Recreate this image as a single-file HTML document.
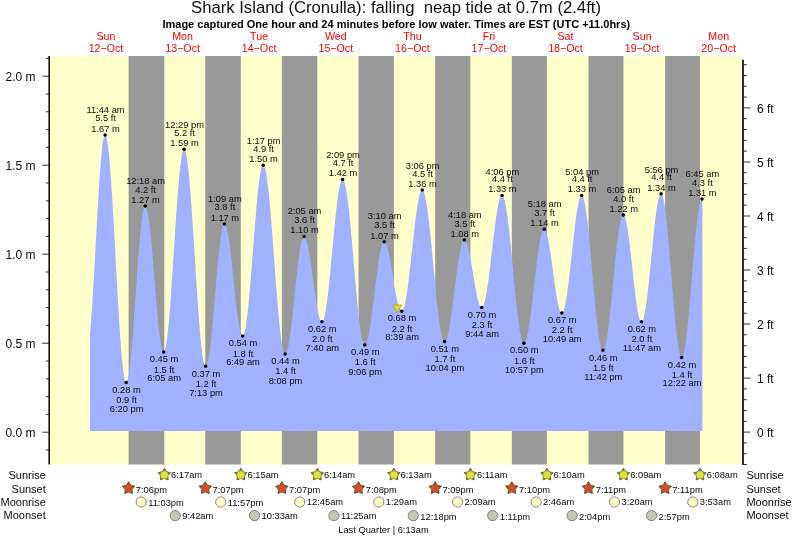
<!DOCTYPE html>
<html><head><meta charset="utf-8"><title>Shark Island (Cronulla) tide times</title>
<style>html,body{margin:0;padding:0;background:#fff}svg{display:block}text{font-family:"Liberation Sans",sans-serif}</style></head><body>
<svg width="793" height="537" viewBox="0 0 793 537">
<rect x="0" y="0" width="793" height="537" fill="#ffffff"/>
<rect x="50" y="56" width="692" height="408.5" fill="#ffffcc"/>
<rect x="128.61" y="56" width="35.69" height="408.5" fill="#999999"/>
<rect x="205.26" y="56" width="35.53" height="408.5" fill="#999999"/>
<rect x="281.86" y="56" width="35.48" height="408.5" fill="#999999"/>
<rect x="358.52" y="56" width="35.37" height="408.5" fill="#999999"/>
<rect x="435.17" y="56" width="35.21" height="408.5" fill="#999999"/>
<rect x="511.82" y="56" width="35.11" height="408.5" fill="#999999"/>
<rect x="588.48" y="56" width="35.00" height="408.5" fill="#999999"/>
<rect x="665.08" y="56" width="34.95" height="408.5" fill="#999999"/>
<polygon points="90.0,431.0 90.0,333.6 90.5,328.0 91.0,321.8 91.5,315.1 92.0,307.9 92.5,300.2 93.0,292.1 93.5,283.7 94.0,275.1 94.5,266.2 95.0,257.2 95.5,248.1 96.0,238.9 96.5,229.8 97.0,220.8 97.5,212.0 98.0,203.4 98.5,195.0 99.0,187.0 99.5,179.5 100.0,172.3 100.5,165.7 101.0,159.6 101.5,154.1 102.0,149.3 102.5,145.1 103.0,141.6 103.5,138.8 104.0,136.8 104.5,135.5 105.0,135.0 105.5,135.2 106.0,136.1 106.5,137.6 107.0,139.9 107.5,142.8 108.0,146.3 108.5,150.5 109.0,155.3 109.5,160.6 110.0,166.5 110.5,173.0 111.0,179.8 111.5,187.2 112.0,194.9 112.5,203.0 113.0,211.3 113.5,220.0 114.0,228.8 114.5,237.9 115.0,247.0 115.5,256.2 116.0,265.4 116.5,274.6 117.0,283.7 117.5,292.7 118.0,301.4 118.5,310.0 119.0,318.2 119.5,326.1 120.0,333.7 120.5,340.8 121.0,347.5 121.5,353.6 122.0,359.3 122.5,364.3 123.0,368.8 123.5,372.7 124.0,376.0 124.5,378.6 125.0,380.5 125.5,381.8 126.0,382.3 126.5,382.2 127.0,381.5 127.5,380.2 128.0,378.3 128.5,375.9 129.0,372.9 129.5,369.3 130.0,365.3 130.5,360.8 131.0,355.8 131.5,350.4 132.0,344.6 132.5,338.5 133.0,332.0 133.5,325.3 134.0,318.4 134.5,311.4 135.0,304.2 135.5,296.9 136.0,289.7 136.5,282.4 137.0,275.3 137.5,268.3 138.0,261.4 138.5,254.8 139.0,248.4 139.5,242.4 140.0,236.7 140.5,231.4 141.0,226.5 141.5,222.1 142.0,218.2 142.5,214.8 143.0,211.9 143.5,209.6 144.0,207.9 144.5,206.7 145.0,206.2 145.5,206.2 146.0,206.8 146.5,207.9 147.0,209.5 147.5,211.6 148.0,214.2 148.5,217.3 149.0,220.8 149.5,224.8 150.0,229.1 150.5,233.8 151.0,238.8 151.5,244.1 152.0,249.7 152.5,255.5 153.0,261.5 153.5,267.5 154.0,273.7 154.5,279.9 155.0,286.1 155.5,292.3 156.0,298.3 156.5,304.2 157.0,310.0 157.5,315.5 158.0,320.7 158.5,325.7 159.0,330.3 159.5,334.5 160.0,338.3 160.5,341.8 161.0,344.7 161.5,347.2 162.0,349.2 162.5,350.7 163.0,351.6 163.5,352.1 164.0,352.0 164.5,351.3 165.0,350.0 165.5,348.1 166.0,345.6 166.5,342.6 167.0,339.1 167.5,335.0 168.0,330.4 168.5,325.3 169.0,319.8 169.5,313.9 170.0,307.6 170.5,301.0 171.0,294.1 171.5,286.9 172.0,279.6 172.5,272.0 173.0,264.3 173.5,256.6 174.0,248.8 174.5,241.0 175.0,233.2 175.5,225.6 176.0,218.1 176.5,210.8 177.0,203.8 177.5,197.0 178.0,190.6 178.5,184.5 179.0,178.7 179.5,173.5 180.0,168.6 180.5,164.3 181.0,160.4 181.5,157.1 182.0,154.4 182.5,152.2 183.0,150.6 183.5,149.6 184.0,149.2 184.5,149.4 185.0,150.1 185.5,151.5 186.0,153.4 186.5,155.8 187.0,158.8 187.5,162.4 188.0,166.4 188.5,170.9 189.0,175.9 189.5,181.4 190.0,187.2 190.5,193.4 191.0,200.0 191.5,206.9 192.0,214.0 192.5,221.4 193.0,228.9 193.5,236.7 194.0,244.5 194.5,252.4 195.0,260.3 195.5,268.3 196.0,276.1 196.5,283.9 197.0,291.5 197.5,299.0 198.0,306.2 198.5,313.2 199.0,319.8 199.5,326.2 200.0,332.1 200.5,337.7 201.0,342.9 201.5,347.6 202.0,351.8 202.5,355.5 203.0,358.7 203.5,361.3 204.0,363.4 204.5,365.0 205.0,365.9 205.5,366.3 206.0,366.2 206.5,365.5 207.0,364.4 207.5,362.8 208.0,360.7 208.5,358.2 209.0,355.2 209.5,351.8 210.0,348.1 210.5,343.9 211.0,339.5 211.5,334.7 212.0,329.7 212.5,324.4 213.0,318.9 213.5,313.3 214.0,307.5 214.5,301.6 215.0,295.8 215.5,289.9 216.0,284.0 216.5,278.2 217.0,272.5 217.5,267.0 218.0,261.7 218.5,256.6 219.0,251.8 219.5,247.2 220.0,243.0 220.5,239.2 221.0,235.7 221.5,232.7 222.0,230.1 222.5,227.9 223.0,226.2 223.5,225.0 224.0,224.2 224.5,223.9 225.0,224.1 225.5,224.7 226.0,225.8 226.5,227.2 227.0,229.1 227.5,231.3 228.0,233.9 228.5,236.8 229.0,240.1 229.5,243.6 230.0,247.5 230.5,251.6 231.0,255.9 231.5,260.3 232.0,265.0 232.5,269.7 233.0,274.5 233.5,279.4 234.0,284.3 234.5,289.1 235.0,293.9 235.5,298.5 236.0,303.0 236.5,307.4 237.0,311.5 237.5,315.4 238.0,319.1 238.5,322.4 239.0,325.4 239.5,328.1 240.0,330.4 240.5,332.4 241.0,333.9 241.5,335.0 242.0,335.8 242.5,336.1 243.0,335.9 243.5,335.3 244.0,334.2 244.5,332.6 245.0,330.5 245.5,327.9 246.0,324.9 246.5,321.5 247.0,317.7 247.5,313.5 248.0,308.9 248.5,303.9 249.0,298.7 249.5,293.2 250.0,287.5 250.5,281.5 251.0,275.3 251.5,269.0 252.0,262.6 252.5,256.2 253.0,249.7 253.5,243.2 254.0,236.7 254.5,230.4 255.0,224.1 255.5,218.0 256.0,212.1 256.5,206.4 257.0,201.0 257.5,195.8 258.0,191.0 258.5,186.5 259.0,182.4 259.5,178.7 260.0,175.4 260.5,172.6 261.0,170.1 261.5,168.2 262.0,166.7 262.5,165.8 263.0,165.3 263.5,165.3 264.0,165.8 264.5,166.7 265.0,168.2 265.5,170.1 266.0,172.5 266.5,175.3 267.0,178.6 267.5,182.3 268.0,186.4 268.5,190.8 269.0,195.7 269.5,200.8 270.0,206.3 270.5,212.0 271.0,217.9 271.5,224.1 272.0,230.5 272.5,237.0 273.0,243.7 273.5,250.4 274.0,257.1 274.5,263.9 275.0,270.7 275.5,277.4 276.0,284.0 276.5,290.4 277.0,296.8 277.5,302.9 278.0,308.8 278.5,314.4 279.0,319.8 279.5,324.9 280.0,329.6 280.5,333.9 281.0,337.9 281.5,341.5 282.0,344.6 282.5,347.3 283.0,349.6 283.5,351.4 284.0,352.7 284.5,353.5 285.0,353.9 285.5,353.8 286.0,353.2 286.5,352.3 287.0,351.0 287.5,349.3 288.0,347.3 288.5,344.9 289.0,342.1 289.5,339.1 290.0,335.7 290.5,332.0 291.0,328.1 291.5,324.0 292.0,319.7 292.5,315.2 293.0,310.5 293.5,305.8 294.0,301.0 294.5,296.2 295.0,291.3 295.5,286.5 296.0,281.7 296.5,277.0 297.0,272.5 297.5,268.1 298.0,263.8 298.5,259.8 299.0,256.1 299.5,252.6 300.0,249.4 300.5,246.5 301.0,244.0 301.5,241.7 302.0,239.9 302.5,238.4 303.0,237.4 303.5,236.7 304.0,236.4 304.5,236.5 305.0,236.9 305.5,237.7 306.0,238.8 306.5,240.2 307.0,241.9 307.5,243.9 308.0,246.1 308.5,248.6 309.0,251.4 309.5,254.3 310.0,257.5 310.5,260.8 311.0,264.3 311.5,267.9 312.0,271.6 312.5,275.3 313.0,279.0 313.5,282.8 314.0,286.5 314.5,290.2 315.0,293.8 315.5,297.3 316.0,300.6 316.5,303.8 317.0,306.8 317.5,309.5 318.0,312.0 318.5,314.3 319.0,316.3 319.5,318.0 320.0,319.4 320.5,320.5 321.0,321.3 321.5,321.7 322.0,321.8 322.5,321.6 323.0,320.9 323.5,319.8 324.0,318.3 324.5,316.4 325.0,314.2 325.5,311.6 326.0,308.6 326.5,305.3 327.0,301.7 327.5,297.8 328.0,293.6 328.5,289.2 329.0,284.5 329.5,279.7 330.0,274.7 330.5,269.5 331.0,264.2 331.5,258.9 332.0,253.5 332.5,248.1 333.0,242.7 333.5,237.4 334.0,232.1 334.5,226.9 335.0,221.9 335.5,217.1 336.0,212.4 336.5,208.0 337.0,203.8 337.5,199.8 338.0,196.2 338.5,192.9 339.0,189.9 339.5,187.2 340.0,185.0 340.5,183.1 341.0,181.6 341.5,180.5 342.0,179.7 342.5,179.5 343.0,179.6 343.5,180.1 344.0,181.0 344.5,182.4 345.0,184.1 345.5,186.3 346.0,188.8 346.5,191.7 347.0,194.9 347.5,198.5 348.0,202.4 348.5,206.6 349.0,211.1 349.5,215.8 350.0,220.8 350.5,225.9 351.0,231.3 351.5,236.8 352.0,242.4 352.5,248.2 353.0,254.0 353.5,259.8 354.0,265.7 354.5,271.5 355.0,277.3 355.5,283.0 356.0,288.7 356.5,294.1 357.0,299.5 357.5,304.6 358.0,309.5 358.5,314.2 359.0,318.6 359.5,322.8 360.0,326.6 360.5,330.1 361.0,333.3 361.5,336.1 362.0,338.6 362.5,340.6 363.0,342.3 363.5,343.6 364.0,344.5 364.5,344.9 365.0,345.0 365.5,344.6 366.0,344.0 366.5,343.0 367.0,341.7 367.5,340.1 368.0,338.2 368.5,335.9 369.0,333.4 369.5,330.7 370.0,327.6 370.5,324.4 371.0,321.0 371.5,317.3 372.0,313.5 372.5,309.6 373.0,305.6 373.5,301.5 374.0,297.3 374.5,293.2 375.0,289.0 375.5,284.8 376.0,280.7 376.5,276.7 377.0,272.8 377.5,269.0 378.0,265.4 378.5,262.0 379.0,258.8 379.5,255.8 380.0,253.0 380.5,250.6 381.0,248.4 381.5,246.5 382.0,244.9 382.5,243.6 383.0,242.6 383.5,242.0 384.0,241.8 384.5,241.8 385.0,242.1 385.5,242.7 386.0,243.6 386.5,244.8 387.0,246.2 387.5,247.8 388.0,249.7 388.5,251.8 389.0,254.1 389.5,256.5 390.0,259.1 390.5,261.9 391.0,264.8 391.5,267.8 392.0,270.8 392.5,273.9 393.0,277.0 393.5,280.1 394.0,283.2 394.5,286.2 395.0,289.2 395.5,292.0 396.0,294.7 396.5,297.3 397.0,299.7 397.5,301.9 398.0,303.9 398.5,305.7 399.0,307.3 399.5,308.6 400.0,309.6 400.5,310.4 401.0,310.9 401.5,311.1 402.0,311.1 402.5,310.7 403.0,309.9 403.5,308.8 404.0,307.3 404.5,305.6 405.0,303.5 405.5,301.1 406.0,298.4 406.5,295.4 407.0,292.1 407.5,288.7 408.0,285.0 408.5,281.1 409.0,277.0 409.5,272.8 410.0,268.4 410.5,263.9 411.0,259.4 411.5,254.8 412.0,250.2 412.5,245.6 413.0,241.0 413.5,236.5 414.0,232.0 414.5,227.7 415.0,223.5 415.5,219.4 416.0,215.6 416.5,211.9 417.0,208.5 417.5,205.3 418.0,202.4 418.5,199.7 419.0,197.4 419.5,195.3 420.0,193.6 420.5,192.3 421.0,191.2 421.5,190.5 422.0,190.2 422.5,190.2 423.0,190.6 423.5,191.3 424.0,192.4 424.5,193.9 425.0,195.8 425.5,198.0 426.0,200.5 426.5,203.4 427.0,206.6 427.5,210.0 428.0,213.8 428.5,217.8 429.0,222.0 429.5,226.5 430.0,231.2 430.5,236.0 431.0,241.0 431.5,246.1 432.0,251.3 432.5,256.6 433.0,261.9 433.5,267.2 434.0,272.6 434.5,277.9 435.0,283.1 435.5,288.3 436.0,293.3 436.5,298.2 437.0,303.0 437.5,307.5 438.0,311.9 438.5,316.0 439.0,319.9 439.5,323.5 440.0,326.8 440.5,329.8 441.0,332.5 441.5,334.8 442.0,336.8 442.5,338.5 443.0,339.8 443.5,340.7 444.0,341.2 444.5,341.4 445.0,341.2 445.5,340.8 446.0,340.0 446.5,338.9 447.0,337.5 447.5,335.8 448.0,333.8 448.5,331.5 449.0,329.0 449.5,326.3 450.0,323.3 450.5,320.2 451.0,316.8 451.5,313.3 452.0,309.7 452.5,305.9 453.0,302.0 453.5,298.1 454.0,294.1 454.5,290.1 455.0,286.1 455.5,282.1 456.0,278.2 456.5,274.4 457.0,270.6 457.5,267.0 458.0,263.6 458.5,260.3 459.0,257.2 459.5,254.3 460.0,251.6 460.5,249.2 461.0,247.0 461.5,245.1 462.0,243.5 462.5,242.2 463.0,241.1 463.5,240.4 464.0,240.0 464.5,240.0 465.0,240.2 465.5,240.7 466.0,241.4 466.5,242.4 467.0,243.7 467.5,245.2 468.0,247.0 468.5,249.0 469.0,251.2 469.5,253.5 470.0,256.1 470.5,258.7 471.0,261.5 471.5,264.4 472.0,267.4 472.5,270.4 473.0,273.5 473.5,276.6 474.0,279.6 474.5,282.6 475.0,285.5 475.5,288.3 476.0,291.0 476.5,293.6 477.0,296.0 477.5,298.2 478.0,300.2 478.5,302.0 479.0,303.6 479.5,304.9 480.0,306.0 480.5,306.8 481.0,307.3 481.5,307.6 482.0,307.5 482.5,307.2 483.0,306.5 483.5,305.5 484.0,304.1 484.5,302.5 485.0,300.5 485.5,298.3 486.0,295.7 486.5,292.9 487.0,289.9 487.5,286.6 488.0,283.2 488.5,279.5 489.0,275.6 489.5,271.7 490.0,267.6 490.5,263.4 491.0,259.1 491.5,254.8 492.0,250.5 492.5,246.1 493.0,241.8 493.5,237.6 494.0,233.4 494.5,229.4 495.0,225.5 495.5,221.7 496.0,218.2 496.5,214.8 497.0,211.6 497.5,208.7 498.0,206.0 498.5,203.6 499.0,201.5 499.5,199.7 500.0,198.2 500.5,197.0 501.0,196.2 501.5,195.7 502.0,195.5 502.5,195.6 503.0,196.2 503.5,197.1 504.0,198.4 504.5,200.0 505.0,202.1 505.5,204.4 506.0,207.1 506.5,210.1 507.0,213.5 507.5,217.1 508.0,221.0 508.5,225.1 509.0,229.5 509.5,234.0 510.0,238.8 510.5,243.7 511.0,248.7 511.5,253.9 512.0,259.1 512.5,264.4 513.0,269.7 513.5,275.0 514.0,280.3 514.5,285.5 515.0,290.6 515.5,295.6 516.0,300.5 516.5,305.2 517.0,309.8 517.5,314.1 518.0,318.2 518.5,322.1 519.0,325.6 519.5,328.9 520.0,331.9 520.5,334.6 521.0,336.9 521.5,338.9 522.0,340.5 522.5,341.7 523.0,342.6 523.5,343.1 524.0,343.2 524.5,343.0 525.0,342.4 525.5,341.5 526.0,340.2 526.5,338.6 527.0,336.7 527.5,334.6 528.0,332.1 528.5,329.3 529.0,326.3 529.5,323.0 530.0,319.6 530.5,315.9 531.0,312.0 531.5,308.0 532.0,303.9 532.5,299.6 533.0,295.3 533.5,290.9 534.0,286.5 534.5,282.1 535.0,277.7 535.5,273.4 536.0,269.1 536.5,265.0 537.0,261.0 537.5,257.1 538.0,253.4 538.5,249.9 539.0,246.6 539.5,243.5 540.0,240.7 540.5,238.2 541.0,236.0 541.5,234.1 542.0,232.5 542.5,231.2 543.0,230.2 543.5,229.6 544.0,229.3 544.5,229.4 545.0,229.7 545.5,230.5 546.0,231.5 546.5,232.9 547.0,234.5 547.5,236.5 548.0,238.7 548.5,241.2 549.0,243.9 549.5,246.8 550.0,250.0 550.5,253.3 551.0,256.7 551.5,260.3 552.0,263.9 552.5,267.6 553.0,271.3 553.5,275.1 554.0,278.8 554.5,282.4 555.0,285.9 555.5,289.4 556.0,292.6 556.5,295.8 557.0,298.7 557.5,301.4 558.0,303.8 558.5,306.0 559.0,307.9 559.5,309.5 560.0,310.9 560.5,311.9 561.0,312.5 561.5,312.9 562.0,312.9 562.5,312.6 563.0,311.8 563.5,310.8 564.0,309.4 564.5,307.6 565.0,305.5 565.5,303.1 566.0,300.4 566.5,297.4 567.0,294.1 567.5,290.6 568.0,286.9 568.5,282.9 569.0,278.8 569.5,274.6 570.0,270.2 570.5,265.7 571.0,261.1 571.5,256.5 572.0,251.9 572.5,247.3 573.0,242.7 573.5,238.2 574.0,233.8 574.5,229.5 575.0,225.4 575.5,221.5 576.0,217.7 576.5,214.2 577.0,211.0 577.5,208.0 578.0,205.3 578.5,202.9 579.0,200.8 579.5,199.0 580.0,197.6 580.5,196.5 581.0,195.8 581.5,195.5 582.0,195.5 582.5,196.0 583.0,196.9 583.5,198.1 584.0,199.8 584.5,202.0 585.0,204.4 585.5,207.3 586.0,210.6 586.5,214.1 587.0,218.0 587.5,222.2 588.0,226.7 588.5,231.4 589.0,236.4 589.5,241.6 590.0,246.9 590.5,252.4 591.0,258.0 591.5,263.6 592.0,269.4 592.5,275.1 593.0,280.8 593.5,286.5 594.0,292.1 594.5,297.6 595.0,303.0 595.5,308.2 596.0,313.2 596.5,318.0 597.0,322.6 597.5,326.8 598.0,330.8 598.5,334.4 599.0,337.8 599.5,340.7 600.0,343.3 600.5,345.5 601.0,347.3 601.5,348.7 602.0,349.6 602.5,350.2 603.0,350.3 603.5,350.0 604.0,349.3 604.5,348.3 605.0,346.8 605.5,344.9 606.0,342.7 606.5,340.1 607.0,337.2 607.5,334.0 608.0,330.4 608.5,326.6 609.0,322.5 609.5,318.1 610.0,313.6 610.5,308.9 611.0,304.0 611.5,299.0 612.0,293.9 612.5,288.7 613.0,283.5 613.5,278.3 614.0,273.1 614.5,268.0 615.0,262.9 615.5,258.0 616.0,253.2 616.5,248.6 617.0,244.2 617.5,240.1 618.0,236.1 618.5,232.5 619.0,229.2 619.5,226.1 620.0,223.4 620.5,221.1 621.0,219.1 621.5,217.5 622.0,216.3 622.5,215.5 623.0,215.1 623.5,215.1 624.0,215.5 624.5,216.2 625.0,217.4 625.5,219.0 626.0,220.9 626.5,223.2 627.0,225.8 627.5,228.7 628.0,231.9 628.5,235.4 629.0,239.1 629.5,243.1 630.0,247.3 630.5,251.6 631.0,256.0 631.5,260.5 632.0,265.1 632.5,269.7 633.0,274.3 633.5,278.9 634.0,283.3 634.5,287.7 635.0,291.9 635.5,296.0 636.0,299.8 636.5,303.4 637.0,306.8 637.5,309.8 638.0,312.6 638.5,315.0 639.0,317.1 639.5,318.8 640.0,320.2 640.5,321.1 641.0,321.7 641.5,321.8 642.0,321.6 642.5,321.0 643.0,319.9 643.5,318.4 644.0,316.6 644.5,314.4 645.0,311.8 645.5,308.9 646.0,305.6 646.5,302.1 647.0,298.2 647.5,294.1 648.0,289.8 648.5,285.3 649.0,280.6 649.5,275.7 650.0,270.7 650.5,265.7 651.0,260.6 651.5,255.4 652.0,250.3 652.5,245.3 653.0,240.3 653.5,235.4 654.0,230.7 654.5,226.1 655.0,221.8 655.5,217.6 656.0,213.8 656.5,210.2 657.0,206.9 657.5,204.0 658.0,201.3 658.5,199.1 659.0,197.2 659.5,195.7 660.0,194.6 660.5,194.0 661.0,193.7 661.5,193.8 662.0,194.5 662.5,195.6 663.0,197.2 663.5,199.2 664.0,201.7 664.5,204.6 665.0,207.9 665.5,211.6 666.0,215.7 666.5,220.2 667.0,225.0 667.5,230.0 668.0,235.4 668.5,240.9 669.0,246.7 669.5,252.6 670.0,258.7 670.5,264.9 671.0,271.1 671.5,277.4 672.0,283.6 672.5,289.8 673.0,296.0 673.5,302.0 674.0,307.8 674.5,313.5 675.0,318.9 675.5,324.1 676.0,329.0 676.5,333.6 677.0,337.8 677.5,341.7 678.0,345.2 678.5,348.3 679.0,350.9 679.5,353.2 680.0,354.9 680.5,356.2 681.0,357.1 681.5,357.4 682.0,357.3 682.5,356.7 683.0,355.7 683.5,354.1 684.0,352.2 684.5,349.8 685.0,346.9 685.5,343.7 686.0,340.1 686.5,336.1 687.0,331.7 687.5,327.1 688.0,322.1 688.5,316.9 689.0,311.5 689.5,305.8 690.0,300.0 690.5,294.1 691.0,288.1 691.5,282.0 692.0,275.9 692.5,269.8 693.0,263.7 693.5,257.8 694.0,252.0 694.5,246.3 695.0,240.8 695.5,235.5 696.0,230.5 696.5,225.8 697.0,221.4 697.5,217.3 698.0,213.6 698.5,210.2 699.0,207.3 699.5,204.8 700.0,202.7 700.5,201.1 701.0,199.9 701.5,199.2 702.0,199.0 702.4,199.2 702.4,431.0" fill="#a0b2ff"/>
<line x1="49.2" y1="56" x2="49.2" y2="464.5" stroke="#111" stroke-width="1.6"/>
<line x1="743" y1="59.8" x2="743" y2="465" stroke="#2e2e2c" stroke-width="2"/>
<g stroke="#2e2e2e" stroke-width="1">
<line x1="45.9" y1="450.0" x2="49" y2="450.0"/>
<line x1="42.3" y1="432.2" x2="49" y2="432.2"/>
<line x1="45.9" y1="414.4" x2="49" y2="414.4"/>
<line x1="45.9" y1="396.6" x2="49" y2="396.6"/>
<line x1="45.9" y1="378.8" x2="49" y2="378.8"/>
<line x1="45.9" y1="361.0" x2="49" y2="361.0"/>
<line x1="42.3" y1="343.2" x2="49" y2="343.2"/>
<line x1="45.9" y1="325.4" x2="49" y2="325.4"/>
<line x1="45.9" y1="307.6" x2="49" y2="307.6"/>
<line x1="45.9" y1="289.8" x2="49" y2="289.8"/>
<line x1="45.9" y1="272.0" x2="49" y2="272.0"/>
<line x1="42.3" y1="254.2" x2="49" y2="254.2"/>
<line x1="45.9" y1="236.4" x2="49" y2="236.4"/>
<line x1="45.9" y1="218.6" x2="49" y2="218.6"/>
<line x1="45.9" y1="200.8" x2="49" y2="200.8"/>
<line x1="45.9" y1="183.0" x2="49" y2="183.0"/>
<line x1="42.3" y1="165.2" x2="49" y2="165.2"/>
<line x1="45.9" y1="147.4" x2="49" y2="147.4"/>
<line x1="45.9" y1="129.6" x2="49" y2="129.6"/>
<line x1="45.9" y1="111.8" x2="49" y2="111.8"/>
<line x1="45.9" y1="94.0" x2="49" y2="94.0"/>
<line x1="42.3" y1="76.2" x2="49" y2="76.2"/>
<line x1="45.9" y1="58.4" x2="49" y2="58.4"/>
<line x1="743.5" y1="464.5" x2="746.8" y2="464.5"/>
<line x1="743.5" y1="453.7" x2="746.8" y2="453.7"/>
<line x1="743.5" y1="442.9" x2="746.8" y2="442.9"/>
<line x1="743.5" y1="432.1" x2="750.2" y2="432.1"/>
<line x1="743.5" y1="421.3" x2="746.8" y2="421.3"/>
<line x1="743.5" y1="410.5" x2="746.8" y2="410.5"/>
<line x1="743.5" y1="399.7" x2="746.8" y2="399.7"/>
<line x1="743.5" y1="388.9" x2="746.8" y2="388.9"/>
<line x1="743.5" y1="378.1" x2="750.2" y2="378.1"/>
<line x1="743.5" y1="367.3" x2="746.8" y2="367.3"/>
<line x1="743.5" y1="356.5" x2="746.8" y2="356.5"/>
<line x1="743.5" y1="345.7" x2="746.8" y2="345.7"/>
<line x1="743.5" y1="334.8" x2="746.8" y2="334.8"/>
<line x1="743.5" y1="324.0" x2="750.2" y2="324.0"/>
<line x1="743.5" y1="313.2" x2="746.8" y2="313.2"/>
<line x1="743.5" y1="302.4" x2="746.8" y2="302.4"/>
<line x1="743.5" y1="291.6" x2="746.8" y2="291.6"/>
<line x1="743.5" y1="280.8" x2="746.8" y2="280.8"/>
<line x1="743.5" y1="270.0" x2="750.2" y2="270.0"/>
<line x1="743.5" y1="259.2" x2="746.8" y2="259.2"/>
<line x1="743.5" y1="248.4" x2="746.8" y2="248.4"/>
<line x1="743.5" y1="237.6" x2="746.8" y2="237.6"/>
<line x1="743.5" y1="226.8" x2="746.8" y2="226.8"/>
<line x1="743.5" y1="216.0" x2="750.2" y2="216.0"/>
<line x1="743.5" y1="205.2" x2="746.8" y2="205.2"/>
<line x1="743.5" y1="194.4" x2="746.8" y2="194.4"/>
<line x1="743.5" y1="183.6" x2="746.8" y2="183.6"/>
<line x1="743.5" y1="172.8" x2="746.8" y2="172.8"/>
<line x1="743.5" y1="162.0" x2="750.2" y2="162.0"/>
<line x1="743.5" y1="151.1" x2="746.8" y2="151.1"/>
<line x1="743.5" y1="140.3" x2="746.8" y2="140.3"/>
<line x1="743.5" y1="129.5" x2="746.8" y2="129.5"/>
<line x1="743.5" y1="118.7" x2="746.8" y2="118.7"/>
<line x1="743.5" y1="107.9" x2="750.2" y2="107.9"/>
<line x1="743.5" y1="97.1" x2="746.8" y2="97.1"/>
<line x1="743.5" y1="86.3" x2="746.8" y2="86.3"/>
<line x1="743.5" y1="75.5" x2="746.8" y2="75.5"/>
<line x1="743.5" y1="64.7" x2="746.8" y2="64.7"/>
</g>
<g font-size="12" fill="#0a0a0a">
<text x="35.6" y="436.7" text-anchor="end">0.0 m</text>
<text x="35.6" y="347.7" text-anchor="end">0.5 m</text>
<text x="35.6" y="258.7" text-anchor="end">1.0 m</text>
<text x="35.6" y="169.7" text-anchor="end">1.5 m</text>
<text x="35.6" y="80.7" text-anchor="end">2.0 m</text>
<text x="757" y="437.1">0 ft</text>
<text x="757" y="383.1">1 ft</text>
<text x="757" y="329.0">2 ft</text>
<text x="757" y="275.0">3 ft</text>
<text x="757" y="221.0">4 ft</text>
<text x="757" y="167.0">5 ft</text>
<text x="757" y="112.9">6 ft</text>
</g>
<text x="396" y="13.2" font-size="16.7" text-anchor="middle" fill="#111" xml:space="preserve" style="white-space:pre">Shark Island (Cronulla): falling  neap tide at 0.7m (2.4ft)</text>
<text x="396.3" y="27.6" font-size="11" font-weight="bold" text-anchor="middle" fill="#000">Image captured One hour and 24 minutes before low water. Times are EST (UTC +11.0hrs)</text>
<g font-size="10.67" fill="#ff0000" text-anchor="middle">
<text x="106.0" y="39.6">Sun</text>
<text x="106.0" y="51.5">12−Oct</text>
<text x="182.6" y="39.6">Mon</text>
<text x="182.6" y="51.5">13−Oct</text>
<text x="259.1" y="39.6">Tue</text>
<text x="259.1" y="51.5">14−Oct</text>
<text x="335.8" y="39.6">Wed</text>
<text x="335.8" y="51.5">15−Oct</text>
<text x="412.4" y="39.6">Thu</text>
<text x="412.4" y="51.5">16−Oct</text>
<text x="488.9" y="39.6">Fri</text>
<text x="488.9" y="51.5">17−Oct</text>
<text x="565.5" y="39.6">Sat</text>
<text x="565.5" y="51.5">18−Oct</text>
<text x="642.1" y="39.6">Sun</text>
<text x="642.1" y="51.5">19−Oct</text>
<text x="718.7" y="39.6">Mon</text>
<text x="718.7" y="51.5">20−Oct</text>
</g>
<g font-size="9.33" fill="#0a0a0a" text-anchor="middle">
<text x="105.5" y="112.5">11:44 am</text>
<text x="105.5" y="121.4">5.5 ft</text>
<text x="105.5" y="131.7">1.67 m</text>
<text x="126.6" y="392.6">0.28 m</text>
<text x="126.6" y="402.8">0.9 ft</text>
<text x="126.6" y="412.4">6:20 pm</text>
<text x="145.6" y="183.7">12:18 am</text>
<text x="145.6" y="192.6">4.2 ft</text>
<text x="145.6" y="202.9">1.27 m</text>
<text x="164.1" y="362.3">0.45 m</text>
<text x="164.1" y="372.5">1.5 ft</text>
<text x="164.1" y="381.1">6:05 am</text>
<text x="184.5" y="128.2">12:29 pm</text>
<text x="184.5" y="135.7">5.2 ft</text>
<text x="184.5" y="146.0">1.59 m</text>
<text x="206.0" y="376.5">0.37 m</text>
<text x="206.0" y="386.7">1.2 ft</text>
<text x="206.0" y="396.3">7:13 pm</text>
<text x="224.9" y="201.5">1:09 am</text>
<text x="224.9" y="210.4">3.8 ft</text>
<text x="224.9" y="220.7">1.17 m</text>
<text x="243.0" y="346.3">0.54 m</text>
<text x="243.0" y="356.5">1.8 ft</text>
<text x="243.0" y="365.1">6:49 am</text>
<text x="263.6" y="144.2">1:17 pm</text>
<text x="263.6" y="151.7">4.9 ft</text>
<text x="263.6" y="162.0">1.50 m</text>
<text x="285.5" y="364.1">0.44 m</text>
<text x="285.5" y="374.3">1.4 ft</text>
<text x="285.5" y="383.9">8:08 pm</text>
<text x="304.5" y="214.0">2:05 am</text>
<text x="304.5" y="222.9">3.6 ft</text>
<text x="304.5" y="233.2">1.10 m</text>
<text x="322.3" y="332.0">0.62 m</text>
<text x="322.3" y="342.2">2.0 ft</text>
<text x="322.3" y="350.8">7:40 am</text>
<text x="343.0" y="158.4">2:09 pm</text>
<text x="343.0" y="165.9">4.7 ft</text>
<text x="343.0" y="176.2">1.42 m</text>
<text x="365.2" y="355.2">0.49 m</text>
<text x="365.2" y="365.4">1.6 ft</text>
<text x="365.2" y="375.0">9:06 pm</text>
<text x="384.6" y="219.3">3:10 am</text>
<text x="384.6" y="228.2">3.5 ft</text>
<text x="384.6" y="238.5">1.07 m</text>
<text x="402.1" y="321.4">0.68 m</text>
<text x="402.1" y="331.6">2.2 ft</text>
<text x="402.1" y="340.2">8:39 am</text>
<text x="422.6" y="169.1">3:06 pm</text>
<text x="422.6" y="176.6">4.5 ft</text>
<text x="422.6" y="186.9">1.36 m</text>
<text x="444.9" y="351.6">0.51 m</text>
<text x="444.9" y="361.8">1.7 ft</text>
<text x="444.9" y="371.4">10:04 pm</text>
<text x="464.8" y="217.6">4:18 am</text>
<text x="464.8" y="226.5">3.5 ft</text>
<text x="464.8" y="236.8">1.08 m</text>
<text x="482.1" y="317.8">0.70 m</text>
<text x="482.1" y="328.0">2.3 ft</text>
<text x="482.1" y="336.6">9:44 am</text>
<text x="502.4" y="174.5">4:06 pm</text>
<text x="502.4" y="182.0">4.4 ft</text>
<text x="502.4" y="192.3">1.33 m</text>
<text x="524.3" y="353.4">0.50 m</text>
<text x="524.3" y="363.6">1.6 ft</text>
<text x="524.3" y="373.2">10:57 pm</text>
<text x="544.6" y="206.9">5:18 am</text>
<text x="544.6" y="215.8">3.7 ft</text>
<text x="544.6" y="226.1">1.14 m</text>
<text x="562.2" y="323.1">0.67 m</text>
<text x="562.2" y="333.3">2.2 ft</text>
<text x="562.2" y="341.9">10:49 am</text>
<text x="582.1" y="174.5">5:04 pm</text>
<text x="582.1" y="182.0">4.4 ft</text>
<text x="582.1" y="192.3">1.33 m</text>
<text x="603.3" y="360.5">0.46 m</text>
<text x="603.3" y="370.7">1.5 ft</text>
<text x="603.3" y="380.3">11:42 pm</text>
<text x="623.7" y="192.6">6:05 am</text>
<text x="623.7" y="201.5">4.0 ft</text>
<text x="623.7" y="211.8">1.22 m</text>
<text x="641.9" y="332.0">0.62 m</text>
<text x="641.9" y="342.2">2.0 ft</text>
<text x="641.9" y="350.8">11:47 am</text>
<text x="661.5" y="172.7">5:56 pm</text>
<text x="661.5" y="180.2">4.4 ft</text>
<text x="661.5" y="190.5">1.34 m</text>
<text x="682.0" y="367.6">0.42 m</text>
<text x="682.0" y="377.8">1.4 ft</text>
<text x="682.0" y="386.4">12:22 am</text>
<text x="702.4" y="176.6">6:45 am</text>
<text x="702.4" y="185.5">4.3 ft</text>
<text x="702.4" y="195.8">1.31 m</text>
</g>
<polygon points="392.6,305 401.8,305 397.1,312.5" fill="#e0d832" stroke="#a8a020" stroke-width="0.8"/>
<g fill="#000">
<circle cx="105.1" cy="134.9" r="1.75"/>
<circle cx="126.2" cy="382.4" r="1.75"/>
<circle cx="145.2" cy="206.1" r="1.75"/>
<circle cx="163.7" cy="352.1" r="1.75"/>
<circle cx="184.1" cy="149.2" r="1.75"/>
<circle cx="205.6" cy="366.3" r="1.75"/>
<circle cx="224.5" cy="223.9" r="1.75"/>
<circle cx="242.6" cy="336.1" r="1.75"/>
<circle cx="263.2" cy="165.2" r="1.75"/>
<circle cx="285.1" cy="353.9" r="1.75"/>
<circle cx="304.1" cy="236.4" r="1.75"/>
<circle cx="321.9" cy="321.8" r="1.75"/>
<circle cx="342.6" cy="179.4" r="1.75"/>
<circle cx="364.8" cy="345.0" r="1.75"/>
<circle cx="384.2" cy="241.7" r="1.75"/>
<circle cx="401.7" cy="311.2" r="1.75"/>
<circle cx="422.2" cy="190.1" r="1.75"/>
<circle cx="444.5" cy="341.4" r="1.75"/>
<circle cx="464.4" cy="240.0" r="1.75"/>
<circle cx="481.7" cy="307.6" r="1.75"/>
<circle cx="502.0" cy="195.5" r="1.75"/>
<circle cx="523.9" cy="343.2" r="1.75"/>
<circle cx="544.2" cy="229.3" r="1.75"/>
<circle cx="561.8" cy="312.9" r="1.75"/>
<circle cx="581.7" cy="195.5" r="1.75"/>
<circle cx="602.9" cy="350.3" r="1.75"/>
<circle cx="623.3" cy="215.0" r="1.75"/>
<circle cx="641.5" cy="321.8" r="1.75"/>
<circle cx="661.1" cy="193.7" r="1.75"/>
<circle cx="681.6" cy="357.4" r="1.75"/>
<circle cx="702.0" cy="199.0" r="1.75"/>
</g>
<g font-size="11" fill="#0a0a0a">
<text x="45.8" y="478.7" text-anchor="end">Sunrise</text>
<text x="746.4" y="478.7">Sunrise</text>
<text x="45.8" y="492.6" text-anchor="end">Sunset</text>
<text x="746.4" y="492.6">Sunset</text>
<text x="45.8" y="505.5" text-anchor="end">Moonrise</text>
<text x="746.4" y="505.5">Moonrise</text>
<text x="45.8" y="519.4" text-anchor="end">Moonset</text>
<text x="746.4" y="519.4">Moonset</text>
</g>
<g font-size="9.33" fill="#0a0a0a">
<polygon points="164.30,468.20 166.48,471.71 170.49,472.69 167.82,475.84 168.12,479.96 164.30,478.40 160.48,479.96 160.79,475.84 158.12,472.69 162.13,471.71" fill="#a6a622" stroke="#5c5c22" stroke-width="0.8"/>
<line x1="164.30" y1="474.60" x2="164.30" y2="468.30" stroke="#80561a" stroke-width="0.55"/>
<line x1="164.30" y1="474.60" x2="170.30" y2="472.65" stroke="#80561a" stroke-width="0.55"/>
<line x1="164.30" y1="474.60" x2="168.01" y2="479.70" stroke="#80561a" stroke-width="0.55"/>
<line x1="164.30" y1="474.60" x2="160.60" y2="479.70" stroke="#80561a" stroke-width="0.55"/>
<line x1="164.30" y1="474.60" x2="158.31" y2="472.65" stroke="#80561a" stroke-width="0.55"/>
<circle cx="164.3" cy="474.9" r="3.6" fill="#e0e040"/>
<text x="171.0" y="477.8">6:17am</text>
<polygon points="240.80,468.20 242.97,471.71 246.98,472.69 244.32,475.84 244.62,479.96 240.80,478.40 236.98,479.96 237.28,475.84 234.62,472.69 238.62,471.71" fill="#a6a622" stroke="#5c5c22" stroke-width="0.8"/>
<line x1="240.80" y1="474.60" x2="240.80" y2="468.30" stroke="#80561a" stroke-width="0.55"/>
<line x1="240.80" y1="474.60" x2="246.79" y2="472.65" stroke="#80561a" stroke-width="0.55"/>
<line x1="240.80" y1="474.60" x2="244.50" y2="479.70" stroke="#80561a" stroke-width="0.55"/>
<line x1="240.80" y1="474.60" x2="237.09" y2="479.70" stroke="#80561a" stroke-width="0.55"/>
<line x1="240.80" y1="474.60" x2="234.81" y2="472.65" stroke="#80561a" stroke-width="0.55"/>
<circle cx="240.8" cy="474.9" r="3.6" fill="#e0e040"/>
<text x="247.5" y="477.8">6:15am</text>
<polygon points="317.34,468.20 319.52,471.71 323.53,472.69 320.86,475.84 321.17,479.96 317.34,478.40 313.52,479.96 313.83,475.84 311.16,472.69 315.17,471.71" fill="#a6a622" stroke="#5c5c22" stroke-width="0.8"/>
<line x1="317.34" y1="474.60" x2="317.34" y2="468.30" stroke="#80561a" stroke-width="0.55"/>
<line x1="317.34" y1="474.60" x2="323.34" y2="472.65" stroke="#80561a" stroke-width="0.55"/>
<line x1="317.34" y1="474.60" x2="321.05" y2="479.70" stroke="#80561a" stroke-width="0.55"/>
<line x1="317.34" y1="474.60" x2="313.64" y2="479.70" stroke="#80561a" stroke-width="0.55"/>
<line x1="317.34" y1="474.60" x2="311.35" y2="472.65" stroke="#80561a" stroke-width="0.55"/>
<circle cx="317.3" cy="474.9" r="3.6" fill="#e0e040"/>
<text x="324.0" y="477.8">6:14am</text>
<polygon points="393.89,468.20 396.07,471.71 400.07,472.69 397.41,475.84 397.71,479.96 393.89,478.40 390.07,479.96 390.37,475.84 387.71,472.69 391.72,471.71" fill="#a6a622" stroke="#5c5c22" stroke-width="0.8"/>
<line x1="393.89" y1="474.60" x2="393.89" y2="468.30" stroke="#80561a" stroke-width="0.55"/>
<line x1="393.89" y1="474.60" x2="399.88" y2="472.65" stroke="#80561a" stroke-width="0.55"/>
<line x1="393.89" y1="474.60" x2="397.59" y2="479.70" stroke="#80561a" stroke-width="0.55"/>
<line x1="393.89" y1="474.60" x2="390.19" y2="479.70" stroke="#80561a" stroke-width="0.55"/>
<line x1="393.89" y1="474.60" x2="387.90" y2="472.65" stroke="#80561a" stroke-width="0.55"/>
<circle cx="393.9" cy="474.9" r="3.6" fill="#e0e040"/>
<text x="400.6" y="477.8">6:13am</text>
<polygon points="470.39,468.20 472.56,471.71 476.57,472.69 473.90,475.84 474.21,479.96 470.39,478.40 466.56,479.96 466.87,475.84 464.20,472.69 468.21,471.71" fill="#a6a622" stroke="#5c5c22" stroke-width="0.8"/>
<line x1="470.39" y1="474.60" x2="470.39" y2="468.30" stroke="#80561a" stroke-width="0.55"/>
<line x1="470.39" y1="474.60" x2="476.38" y2="472.65" stroke="#80561a" stroke-width="0.55"/>
<line x1="470.39" y1="474.60" x2="474.09" y2="479.70" stroke="#80561a" stroke-width="0.55"/>
<line x1="470.39" y1="474.60" x2="466.68" y2="479.70" stroke="#80561a" stroke-width="0.55"/>
<line x1="470.39" y1="474.60" x2="464.39" y2="472.65" stroke="#80561a" stroke-width="0.55"/>
<circle cx="470.4" cy="474.9" r="3.6" fill="#e0e040"/>
<text x="477.1" y="477.8">6:11am</text>
<polygon points="546.93,468.20 549.11,471.71 553.11,472.69 550.45,475.84 550.75,479.96 546.93,478.40 543.11,479.96 543.41,475.84 540.75,472.69 544.76,471.71" fill="#a6a622" stroke="#5c5c22" stroke-width="0.8"/>
<line x1="546.93" y1="474.60" x2="546.93" y2="468.30" stroke="#80561a" stroke-width="0.55"/>
<line x1="546.93" y1="474.60" x2="552.92" y2="472.65" stroke="#80561a" stroke-width="0.55"/>
<line x1="546.93" y1="474.60" x2="550.63" y2="479.70" stroke="#80561a" stroke-width="0.55"/>
<line x1="546.93" y1="474.60" x2="543.23" y2="479.70" stroke="#80561a" stroke-width="0.55"/>
<line x1="546.93" y1="474.60" x2="540.94" y2="472.65" stroke="#80561a" stroke-width="0.55"/>
<circle cx="546.9" cy="474.9" r="3.6" fill="#e0e040"/>
<text x="553.6" y="477.8">6:10am</text>
<polygon points="623.48,468.20 625.65,471.71 629.66,472.69 627.00,475.84 627.30,479.96 623.48,478.40 619.66,479.96 619.96,475.84 617.30,472.69 621.30,471.71" fill="#a6a622" stroke="#5c5c22" stroke-width="0.8"/>
<line x1="623.48" y1="474.60" x2="623.48" y2="468.30" stroke="#80561a" stroke-width="0.55"/>
<line x1="623.48" y1="474.60" x2="629.47" y2="472.65" stroke="#80561a" stroke-width="0.55"/>
<line x1="623.48" y1="474.60" x2="627.18" y2="479.70" stroke="#80561a" stroke-width="0.55"/>
<line x1="623.48" y1="474.60" x2="619.78" y2="479.70" stroke="#80561a" stroke-width="0.55"/>
<line x1="623.48" y1="474.60" x2="617.49" y2="472.65" stroke="#80561a" stroke-width="0.55"/>
<circle cx="623.5" cy="474.9" r="3.6" fill="#e0e040"/>
<text x="630.2" y="477.8">6:09am</text>
<polygon points="700.03,468.20 702.20,471.71 706.21,472.69 703.54,475.84 703.85,479.96 700.03,478.40 696.20,479.96 696.51,475.84 693.84,472.69 697.85,471.71" fill="#a6a622" stroke="#5c5c22" stroke-width="0.8"/>
<line x1="700.03" y1="474.60" x2="700.03" y2="468.30" stroke="#80561a" stroke-width="0.55"/>
<line x1="700.03" y1="474.60" x2="706.02" y2="472.65" stroke="#80561a" stroke-width="0.55"/>
<line x1="700.03" y1="474.60" x2="703.73" y2="479.70" stroke="#80561a" stroke-width="0.55"/>
<line x1="700.03" y1="474.60" x2="696.32" y2="479.70" stroke="#80561a" stroke-width="0.55"/>
<line x1="700.03" y1="474.60" x2="694.03" y2="472.65" stroke="#80561a" stroke-width="0.55"/>
<circle cx="700.0" cy="474.9" r="3.6" fill="#e0e040"/>
<text x="706.7" y="477.8">6:08am</text>
<polygon points="128.61,481.70 130.79,485.21 134.79,486.19 132.13,489.34 132.43,493.46 128.61,491.90 124.79,493.46 125.09,489.34 122.43,486.19 126.44,485.21" fill="#8e6c18" stroke="#5c4018" stroke-width="0.8"/>
<line x1="128.61" y1="488.10" x2="128.61" y2="481.80" stroke="#6e4a14" stroke-width="0.55"/>
<line x1="128.61" y1="488.10" x2="134.60" y2="486.15" stroke="#6e4a14" stroke-width="0.55"/>
<line x1="128.61" y1="488.10" x2="132.31" y2="493.20" stroke="#6e4a14" stroke-width="0.55"/>
<line x1="128.61" y1="488.10" x2="124.91" y2="493.20" stroke="#6e4a14" stroke-width="0.55"/>
<line x1="128.61" y1="488.10" x2="122.62" y2="486.15" stroke="#6e4a14" stroke-width="0.55"/>
<circle cx="128.6" cy="488.4" r="3.6" fill="#d84a32"/>
<text x="135.8" y="492.5">7:06pm</text>
<polygon points="205.26,481.70 207.44,485.21 211.45,486.19 208.78,489.34 209.08,493.46 205.26,491.90 201.44,493.46 201.75,489.34 199.08,486.19 203.09,485.21" fill="#8e6c18" stroke="#5c4018" stroke-width="0.8"/>
<line x1="205.26" y1="488.10" x2="205.26" y2="481.80" stroke="#6e4a14" stroke-width="0.55"/>
<line x1="205.26" y1="488.10" x2="211.26" y2="486.15" stroke="#6e4a14" stroke-width="0.55"/>
<line x1="205.26" y1="488.10" x2="208.97" y2="493.20" stroke="#6e4a14" stroke-width="0.55"/>
<line x1="205.26" y1="488.10" x2="201.56" y2="493.20" stroke="#6e4a14" stroke-width="0.55"/>
<line x1="205.26" y1="488.10" x2="199.27" y2="486.15" stroke="#6e4a14" stroke-width="0.55"/>
<circle cx="205.3" cy="488.4" r="3.6" fill="#d84a32"/>
<text x="212.5" y="492.5">7:07pm</text>
<polygon points="281.86,481.70 284.04,485.21 288.05,486.19 285.38,489.34 285.68,493.46 281.86,491.90 278.04,493.46 278.35,489.34 275.68,486.19 279.69,485.21" fill="#8e6c18" stroke="#5c4018" stroke-width="0.8"/>
<line x1="281.86" y1="488.10" x2="281.86" y2="481.80" stroke="#6e4a14" stroke-width="0.55"/>
<line x1="281.86" y1="488.10" x2="287.86" y2="486.15" stroke="#6e4a14" stroke-width="0.55"/>
<line x1="281.86" y1="488.10" x2="285.57" y2="493.20" stroke="#6e4a14" stroke-width="0.55"/>
<line x1="281.86" y1="488.10" x2="278.16" y2="493.20" stroke="#6e4a14" stroke-width="0.55"/>
<line x1="281.86" y1="488.10" x2="275.87" y2="486.15" stroke="#6e4a14" stroke-width="0.55"/>
<circle cx="281.9" cy="488.4" r="3.6" fill="#d84a32"/>
<text x="289.1" y="492.5">7:07pm</text>
<polygon points="358.52,481.70 360.69,485.21 364.70,486.19 362.04,489.34 362.34,493.46 358.52,491.90 354.70,493.46 355.00,489.34 352.34,486.19 356.34,485.21" fill="#8e6c18" stroke="#5c4018" stroke-width="0.8"/>
<line x1="358.52" y1="488.10" x2="358.52" y2="481.80" stroke="#6e4a14" stroke-width="0.55"/>
<line x1="358.52" y1="488.10" x2="364.51" y2="486.15" stroke="#6e4a14" stroke-width="0.55"/>
<line x1="358.52" y1="488.10" x2="362.22" y2="493.20" stroke="#6e4a14" stroke-width="0.55"/>
<line x1="358.52" y1="488.10" x2="354.81" y2="493.20" stroke="#6e4a14" stroke-width="0.55"/>
<line x1="358.52" y1="488.10" x2="352.53" y2="486.15" stroke="#6e4a14" stroke-width="0.55"/>
<circle cx="358.5" cy="488.4" r="3.6" fill="#d84a32"/>
<text x="365.7" y="492.5">7:08pm</text>
<polygon points="435.17,481.70 437.35,485.21 441.35,486.19 438.69,489.34 438.99,493.46 435.17,491.90 431.35,493.46 431.65,489.34 428.99,486.19 433.00,485.21" fill="#8e6c18" stroke="#5c4018" stroke-width="0.8"/>
<line x1="435.17" y1="488.10" x2="435.17" y2="481.80" stroke="#6e4a14" stroke-width="0.55"/>
<line x1="435.17" y1="488.10" x2="441.16" y2="486.15" stroke="#6e4a14" stroke-width="0.55"/>
<line x1="435.17" y1="488.10" x2="438.87" y2="493.20" stroke="#6e4a14" stroke-width="0.55"/>
<line x1="435.17" y1="488.10" x2="431.47" y2="493.20" stroke="#6e4a14" stroke-width="0.55"/>
<line x1="435.17" y1="488.10" x2="429.18" y2="486.15" stroke="#6e4a14" stroke-width="0.55"/>
<circle cx="435.2" cy="488.4" r="3.6" fill="#d84a32"/>
<text x="442.4" y="492.5">7:09pm</text>
<polygon points="511.82,481.70 514.00,485.21 518.01,486.19 515.34,489.34 515.64,493.46 511.82,491.90 508.00,493.46 508.30,489.34 505.64,486.19 509.65,485.21" fill="#8e6c18" stroke="#5c4018" stroke-width="0.8"/>
<line x1="511.82" y1="488.10" x2="511.82" y2="481.80" stroke="#6e4a14" stroke-width="0.55"/>
<line x1="511.82" y1="488.10" x2="517.82" y2="486.15" stroke="#6e4a14" stroke-width="0.55"/>
<line x1="511.82" y1="488.10" x2="515.53" y2="493.20" stroke="#6e4a14" stroke-width="0.55"/>
<line x1="511.82" y1="488.10" x2="508.12" y2="493.20" stroke="#6e4a14" stroke-width="0.55"/>
<line x1="511.82" y1="488.10" x2="505.83" y2="486.15" stroke="#6e4a14" stroke-width="0.55"/>
<circle cx="511.8" cy="488.4" r="3.6" fill="#d84a32"/>
<text x="519.0" y="492.5">7:10pm</text>
<polygon points="588.48,481.70 590.65,485.21 594.66,486.19 592.00,489.34 592.30,493.46 588.48,491.90 584.66,493.46 584.96,489.34 582.29,486.19 586.30,485.21" fill="#8e6c18" stroke="#5c4018" stroke-width="0.8"/>
<line x1="588.48" y1="488.10" x2="588.48" y2="481.80" stroke="#6e4a14" stroke-width="0.55"/>
<line x1="588.48" y1="488.10" x2="594.47" y2="486.15" stroke="#6e4a14" stroke-width="0.55"/>
<line x1="588.48" y1="488.10" x2="592.18" y2="493.20" stroke="#6e4a14" stroke-width="0.55"/>
<line x1="588.48" y1="488.10" x2="584.77" y2="493.20" stroke="#6e4a14" stroke-width="0.55"/>
<line x1="588.48" y1="488.10" x2="582.49" y2="486.15" stroke="#6e4a14" stroke-width="0.55"/>
<circle cx="588.5" cy="488.4" r="3.6" fill="#d84a32"/>
<text x="595.7" y="492.5">7:11pm</text>
<polygon points="665.08,481.70 667.25,485.21 671.26,486.19 668.60,489.34 668.90,493.46 665.08,491.90 661.26,493.46 661.56,489.34 658.89,486.19 662.90,485.21" fill="#8e6c18" stroke="#5c4018" stroke-width="0.8"/>
<line x1="665.08" y1="488.10" x2="665.08" y2="481.80" stroke="#6e4a14" stroke-width="0.55"/>
<line x1="665.08" y1="488.10" x2="671.07" y2="486.15" stroke="#6e4a14" stroke-width="0.55"/>
<line x1="665.08" y1="488.10" x2="668.78" y2="493.20" stroke="#6e4a14" stroke-width="0.55"/>
<line x1="665.08" y1="488.10" x2="661.37" y2="493.20" stroke="#6e4a14" stroke-width="0.55"/>
<line x1="665.08" y1="488.10" x2="659.09" y2="486.15" stroke="#6e4a14" stroke-width="0.55"/>
<circle cx="665.1" cy="488.4" r="3.6" fill="#d84a32"/>
<text x="672.3" y="492.5">7:11pm</text>
<circle cx="141.2" cy="502.0" r="5.1" fill="#ffffc8" stroke="#888880" stroke-width="1"/>
<text x="148.2" y="506.3">11:03pm</text>
<circle cx="220.7" cy="502.0" r="5.1" fill="#ffffc8" stroke="#888880" stroke-width="1"/>
<text x="227.7" y="506.3">11:57pm</text>
<circle cx="299.8" cy="502.0" r="5.1" fill="#ffffc8" stroke="#888880" stroke-width="1"/>
<text x="306.8" y="505.3">12:45am</text>
<circle cx="378.8" cy="502.0" r="5.1" fill="#ffffc8" stroke="#888880" stroke-width="1"/>
<text x="385.8" y="505.3">1:29am</text>
<circle cx="457.5" cy="502.0" r="5.1" fill="#ffffc8" stroke="#888880" stroke-width="1"/>
<text x="464.5" y="505.3">2:09am</text>
<circle cx="536.1" cy="502.0" r="5.1" fill="#ffffc8" stroke="#888880" stroke-width="1"/>
<text x="543.1" y="505.3">2:46am</text>
<circle cx="614.5" cy="502.0" r="5.1" fill="#ffffc8" stroke="#888880" stroke-width="1"/>
<text x="621.5" y="505.3">3:20am</text>
<circle cx="692.8" cy="502.0" r="5.1" fill="#ffffc8" stroke="#888880" stroke-width="1"/>
<text x="699.8" y="505.3">3:53am</text>
<circle cx="175.2" cy="515.6" r="5.1" fill="#c8c4b8" stroke="#7c7c74" stroke-width="1"/>
<text x="182.2" y="518.9">9:42am</text>
<circle cx="254.5" cy="515.6" r="5.1" fill="#c8c4b8" stroke="#7c7c74" stroke-width="1"/>
<text x="261.5" y="518.9">10:33am</text>
<circle cx="333.9" cy="515.6" r="5.1" fill="#c8c4b8" stroke="#7c7c74" stroke-width="1"/>
<text x="340.9" y="518.9">11:25am</text>
<circle cx="413.3" cy="515.6" r="5.1" fill="#c8c4b8" stroke="#7c7c74" stroke-width="1"/>
<text x="420.3" y="519.9">12:18pm</text>
<circle cx="492.7" cy="515.6" r="5.1" fill="#c8c4b8" stroke="#7c7c74" stroke-width="1"/>
<text x="499.7" y="519.9">1:11pm</text>
<circle cx="572.1" cy="515.6" r="5.1" fill="#c8c4b8" stroke="#7c7c74" stroke-width="1"/>
<text x="579.1" y="519.9">2:04pm</text>
<circle cx="651.6" cy="515.6" r="5.1" fill="#c8c4b8" stroke="#7c7c74" stroke-width="1"/>
<text x="658.6" y="519.9">2:57pm</text>
<text x="383.5" y="532.6" text-anchor="middle">Last Quarter | 6:13am</text>
</g>
</svg></body></html>
